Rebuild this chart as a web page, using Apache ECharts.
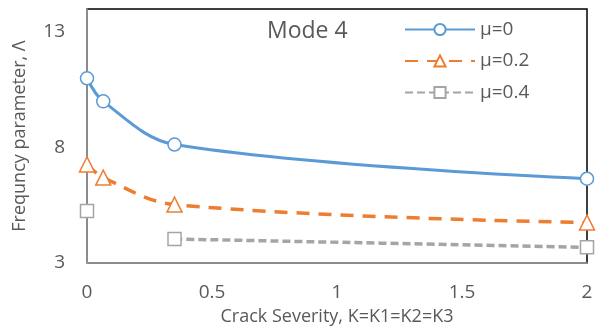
<!DOCTYPE html>
<html>
<head>
<meta charset="utf-8">
<script src="https://cdn.jsdelivr.net/npm/echarts@6/dist/echarts.min.js"></script>
<style>
  html, body { margin: 0; padding: 0; background: #fff; }
  #chart { width: 603px; height: 331px; }
</style>
</head>
<body>
<div id="chart"></div>
<script>
// Crack severity values along the x axis
const severity = [0, 0.065, 0.35, 2];
// Frequency parameter for each mass ratio
const mu0 = [11.0, 10.0, 8.13, 6.65];
const mu02 = [7.27, 6.70, 5.53, 4.75];
const mu04 = [5.25, null, 4.04, 3.68];
const seriesNames = ['μ=0', 'μ=0.2', 'μ=0.4'];
const yTicks = [3, 8, 13];

const pairs = vals => severity.map((k, i) => [k, vals[i]]);

const font = '"Open Sans", sans-serif';
const textGray = '#595959';

const chart = echarts.init(document.getElementById('chart'));
chart.setOption({
  animation: false,
  title: {
    text: 'Mode 4',
    left: 262, top: 15,
    textStyle: { fontFamily: font, fontSize: 23, fontWeight: 'normal', color: textGray }
  },
  grid: {
    left: 87, right: 16, top: 9, bottom: 65,
    show: true, borderColor: '#000', borderWidth: 1.5, backgroundColor: 'transparent'
  },
  legend: {
    orient: 'vertical',
    left: 399, top: 15,
    itemWidth: 70, itemHeight: 14, itemGap: 12.5,
    textStyle: { fontFamily: font, fontSize: 19, color: textGray },
    data: seriesNames
  },
  xAxis: {
    type: 'value', min: 0, max: 2, interval: 0.5,
    name: 'Crack Severity, K=K1=K2=K3',
    nameLocation: 'middle', nameGap: 45,
    nameTextStyle: { fontFamily: font, fontSize: 18, color: textGray },
    axisLine: { lineStyle: { color: '#A6A6A6', width: 1.5 } },
    axisTick: { show: false },
    splitLine: { show: false },
    axisLabel: { margin: 20, fontFamily: font, fontSize: 19, color: textGray }
  },
  yAxis: {
    type: 'value', min: 3, max: 14, interval: 5,
    name: 'Frequncy parameter, Λ',
    nameLocation: 'middle', nameGap: 58,
    nameTextStyle: { fontFamily: font, fontSize: 18, color: textGray },
    axisLine: { show: true, lineStyle: { color: '#A6A6A6', width: 1.5 } },
    axisTick: { show: false },
    splitLine: { show: false },
    axisLabel: {
      margin: 22, fontFamily: font, fontSize: 19, color: textGray,
      formatter: v => (yTicks.includes(v) ? String(v) : '')
    }
  },
  series: [
    {
      name: seriesNames[0], type: 'line', smooth: 0.35, clip: false,
      data: pairs(mu0),
      symbol: 'circle', symbolSize: 13,
      lineStyle: { color: '#5B9BD5', width: 3 },
      itemStyle: { color: '#fff', borderColor: '#5B9BD5', borderWidth: 1.5 },
      color: '#5B9BD5'
    },
    {
      name: seriesNames[1], type: 'line', smooth: 0.35, clip: false,
      data: pairs(mu02),
      symbol: 'triangle', symbolSize: 15,
      lineStyle: { color: '#ED7D31', width: 3.5, type: [13, 9] },
      itemStyle: { color: '#fff', borderColor: '#ED7D31', borderWidth: 1.5 },
      color: '#ED7D31'
    },
    {
      name: seriesNames[2], type: 'line', smooth: 0.35, clip: false, connectNulls: false,
      data: pairs(mu04),
      symbol: 'rect', symbolSize: 13,
      lineStyle: { color: '#A5A5A5', width: 3.5, type: [8, 4] },
      itemStyle: { color: '#fff', borderColor: '#A5A5A5', borderWidth: 1.5 },
      color: '#A5A5A5'
    }
  ]
});
</script>
</body>
</html>
